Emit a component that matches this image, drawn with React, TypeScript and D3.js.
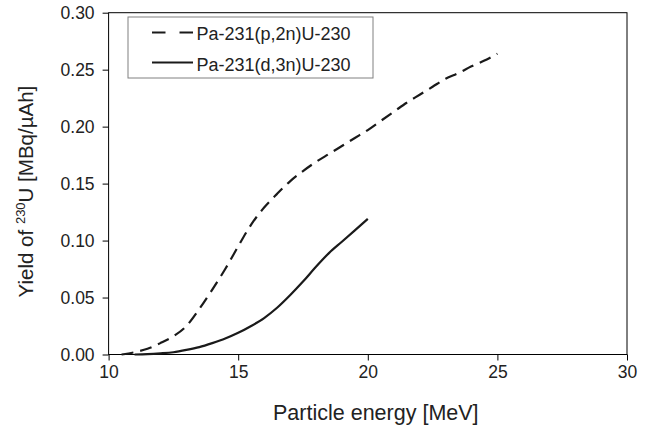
import React, { useEffect, useRef } from "react";
import * as d3 from "d3";

// Pa-231(p,2n)U-230
const energyPN = [10.5, 11, 11.5, 12, 12.5, 13, 13.5, 14, 14.5, 15, 15.5, 16, 16.5, 17, 17.5, 18, 18.5, 19, 19.5, 20, 20.5, 21, 21.5, 22, 22.5, 23, 23.5, 24, 24.5, 25];
const yieldPN = [0, 0.002, 0.005, 0.01, 0.016, 0.025, 0.04, 0.057, 0.075, 0.095, 0.114, 0.129, 0.141, 0.152, 0.161, 0.169, 0.176, 0.183, 0.19, 0.197, 0.205, 0.213, 0.221, 0.228, 0.235, 0.242, 0.247, 0.253, 0.258, 0.264];

// Pa-231(d,3n)U-230
const energyDN = [11, 11.5, 12, 12.5, 13, 13.5, 14, 14.5, 15, 15.5, 16, 16.5, 17, 17.5, 18, 18.5, 19, 19.5, 20];
const yieldDN = [0, 0.0003, 0.001, 0.002, 0.004, 0.0065, 0.01, 0.014, 0.019, 0.025, 0.032, 0.041, 0.052, 0.064, 0.077, 0.089, 0.099, 0.109, 0.119];

const seriesNames = ["Pa-231(p,2n)U-230", "Pa-231(d,3n)U-230"];
const xTicks = [10, 15, 20, 25, 30];
const yTicks = [0, 0.05, 0.1, 0.15, 0.2, 0.25, 0.3];

const W = 650;
const H = 432;
const margin = { top: 12.7, right: 23, bottom: 77.5, left: 108.6 };
const font = "'Liberation Sans', Arial, Helvetica, sans-serif";
const ink = "#1a1a1a";

const App = () => {
  const xAxisRef = useRef<SVGGElement>(null);
  const yAxisRef = useRef<SVGGElement>(null);

  const x = d3.scaleLinear().domain([10, 30]).range([margin.left, W - margin.right]);
  const y = d3.scaleLinear().domain([0, 0.3]).range([H - margin.bottom, margin.top]);

  const line = d3
    .line<[number, number]>()
    .x((d) => x(d[0]))
    .y((d) => y(d[1]))
    .curve(d3.curveMonotoneX);

  const pnPath = line(energyPN.map((e, i) => [e, yieldPN[i]]));
  const dnPath = line(energyDN.map((e, i) => [e, yieldDN[i]]));

  useEffect(() => {
    const styleAxis = (sel: d3.Selection<SVGGElement, unknown, null, undefined>) => {
      sel.select(".domain").remove();
      sel.selectAll("line").attr("stroke", "#000");
      sel.selectAll("text").attr("fill", "#222").style("font-family", font).style("font-size", "17.5px");
    };
    if (xAxisRef.current) {
      const g = d3.select(xAxisRef.current);
      g.call(d3.axisBottom(x).tickValues(xTicks).tickSize(6).tickPadding(5).tickFormat(d3.format("d")));
      styleAxis(g);
    }
    if (yAxisRef.current) {
      const g = d3.select(yAxisRef.current);
      g.call(d3.axisLeft(y).tickValues(yTicks).tickSize(6).tickPadding(8).tickFormat(d3.format(".2f")));
      styleAxis(g);
    }
  }, []);

  const plotW = W - margin.left - margin.right;
  const plotH = H - margin.top - margin.bottom;

  return (
    <div style={{ position: "absolute", left: 0, top: 0 }}>
      <svg width={W} height={H} style={{ display: "block", background: "#fff" }}>
        <g ref={xAxisRef} transform={`translate(0,${H - margin.bottom})`} />
        <g ref={yAxisRef} transform={`translate(${margin.left},0)`} />
        <rect x={margin.left} y={margin.top} width={plotW} height={plotH} fill="none" stroke="#000" strokeWidth={1} />

        <path d={pnPath ?? ""} fill="none" stroke={ink} strokeWidth={2.2} strokeDasharray="12,7" />
        <path d={dnPath ?? ""} fill="none" stroke={ink} strokeWidth={2.2} />

        {/* legend */}
        <g>
          <rect x={128} y={17} width={245} height={61} fill="#fff" stroke="#808080" strokeWidth={1} />
          <line x1={152} x2={193} y1={32.5} y2={32.5} stroke={ink} strokeWidth={2.2} strokeDasharray="13.5,14" />
          <line x1={152} x2={193} y1={62.5} y2={62.5} stroke={ink} strokeWidth={2.2} />
          {seriesNames.map((name, i) => (
            <text key={name} x={196.5} y={39.5 + i * 31} fontFamily={font} fontSize={18} fill="#222">
              {name}
            </text>
          ))}
        </g>

        <text x={(margin.left + W - margin.right) / 2 + 8} y={420} textAnchor="middle" fontFamily={font} fontSize={21.5} fill="#222">
          Particle energy [MeV]
        </text>
        <text
          transform={`translate(33,${(margin.top + H - margin.bottom) / 2 + 8}) rotate(-90)`}
          textAnchor="middle"
          fontFamily={font}
          fontSize={20.5}
          fill="#222"
        >
          Yield of <tspan fontSize={13} dy={-8}>230</tspan>
          <tspan dy={8}>U [MBq/µAh]</tspan>
        </text>
      </svg>
    </div>
  );
};

export default App;
